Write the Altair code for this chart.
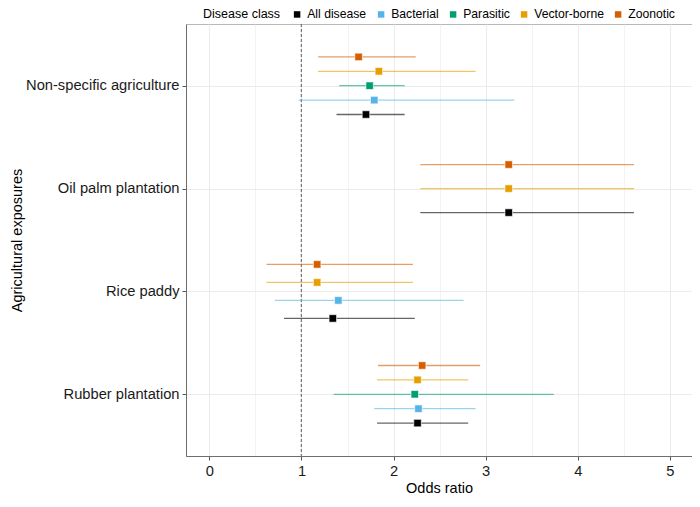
import json
import altair as alt
import pandas as pd

exposures = ["Non-specific agriculture", "Oil palm plantation", "Rice paddy", "Rubber plantation"]
classes = ["All disease", "Bacterial", "Parasitic", "Vector-borne", "Zoonotic"]
class_colors = ["#000000", "#56B4E9", "#009E73", "#E69F00", "#D55E00"]
dodge_order = ["Zoonotic", "Vector-borne", "Parasitic", "Bacterial", "All disease"]

row_exposure = (["Non-specific agriculture"] * 5 + ["Oil palm plantation"] * 3
                + ["Rice paddy"] * 4 + ["Rubber plantation"] * 5)
row_class = ["Zoonotic", "Vector-borne", "Parasitic", "Bacterial", "All disease",
             "Zoonotic", "Vector-borne", "All disease",
             "Zoonotic", "Vector-borne", "Bacterial", "All disease",
             "Zoonotic", "Vector-borne", "Parasitic", "Bacterial", "All disease"]
odds_ratio = [1.62, 1.84, 1.74, 1.79, 1.70,
              3.25, 3.25, 3.25,
              1.17, 1.17, 1.40, 1.34,
              2.31, 2.26, 2.23, 2.27, 2.26]
ci_lower = [1.18, 1.18, 1.41, 0.97, 1.38,
            2.29, 2.29, 2.29,
            0.62, 0.62, 0.71, 0.81,
            1.83, 1.82, 1.35, 1.79, 1.82]
ci_upper = [2.24, 2.89, 2.12, 3.31, 2.12,
            4.61, 4.61, 4.61,
            2.21, 2.21, 2.76, 2.23,
            2.94, 2.81, 3.74, 2.89, 2.81]

df = pd.DataFrame({
    "exposure": row_exposure,
    "cls": row_class,
    "odds": odds_ratio,
    "lo": ci_lower,
    "hi": ci_upper,
})

FONT = "Liberation Sans"
exp_js = json.dumps(exposures)
dodge_js = json.dumps(dodge_order)

base = alt.Chart(df).transform_calculate(
    cat_idx=f"indexof({exp_js}, datum.exposure) + 1",
    cls_rank=f"indexof({dodge_js}, datum.cls)",
).transform_window(
    slot="row_number()", groupby=["exposure"], sort=[alt.SortField("cls_rank")]
).transform_joinaggregate(
    n="count()", groupby=["exposure"]
).transform_calculate(
    pos="datum.cat_idx + (datum.slot - (datum.n + 1) / 2) * 0.7 / datum.n"
)

x_scale = alt.Scale(domain=[-0.254, 5.24], nice=False, zero=False)
y_scale = alt.Scale(domain=[0.4, 4.6], nice=False, zero=False, reverse=True)
color_scale = alt.Scale(domain=classes, range=class_colors)

x_axis = alt.Axis(
    title="Odds ratio",
    values=[0, 0.5, 1, 1.5, 2, 2.5, 3, 3.5, 4, 4.5, 5],
    labelExpr="datum.value % 1 === 0 ? '' + datum.value : ''",
    tickOpacity={"condition": {"test": "datum.value % 1 === 0", "value": 1}, "value": 0},
    gridWidth={"condition": {"test": "datum.value % 1 === 0", "value": 1}, "value": 0.6},
    grid=True,
)
y_axis = alt.Axis(
    title="Agricultural exposures",
    values=[1, 2, 3, 4],
    labelExpr=f"{exp_js}[datum.value - 1]",
    grid=True,
    titlePadding=1,
)

color_enc = alt.Color(
    "cls:N", scale=color_scale, sort=classes,
    legend=alt.Legend(
        title="Disease class", orient="none", legendX=17, legendY=-16,
        direction="horizontal", titleOrient="left", symbolType="square",
        symbolSize=42, symbolOpacity=1, symbolStrokeWidth=0,
        columnPadding=8, labelOffset=4, titlePadding=10,
    ),
)

bars = base.mark_rule(strokeWidth=1.3, opacity=0.6).encode(
    x=alt.X("lo:Q", scale=x_scale, axis=x_axis),
    x2="hi:Q",
    y=alt.Y("pos:Q", scale=y_scale, axis=y_axis),
    color=color_enc,
)
points = base.mark_square(size=56, opacity=1, stroke="white", strokeWidth=0.6).encode(
    x=alt.X("odds:Q", scale=x_scale),
    y=alt.Y("pos:Q", scale=y_scale),
    color=color_enc,
)
ref = alt.Chart(df).mark_rule(color="#7a7a7a", strokeDash=[3, 2], strokeWidth=1).encode(
    x=alt.datum(1)
)

chart = alt.layer(ref, bars, points).properties(
    width=506, height=432,
    autosize=alt.AutoSizeParams(type="none"),
    padding={"left": 178, "top": 16, "right": 0, "bottom": 43},
).configure_view(
    stroke="#b8b8b8", strokeWidth=1
).configure_axis(
    labelFont=FONT, titleFont=FONT, labelFontSize=14.7, titleFontSize=14.5,
    labelColor="#1a1a1a", titleColor="#000000", titleFontWeight="normal",
    gridColor="#ebebeb", domainColor="#6e6e6e", domainWidth=1,
    tickColor="#555555", tickSize=4, labelPadding=3,
).configure_axisX(
    titlePadding=4,
).configure_legend(
    labelFont=FONT, titleFont=FONT, labelFontSize=12.2, titleFontSize=12.5,
    titleFontWeight="normal", labelColor="#000000", titleColor="#000000",
)

chart.save("out.html", embed_options={"renderer": "svg", "actions": False})
